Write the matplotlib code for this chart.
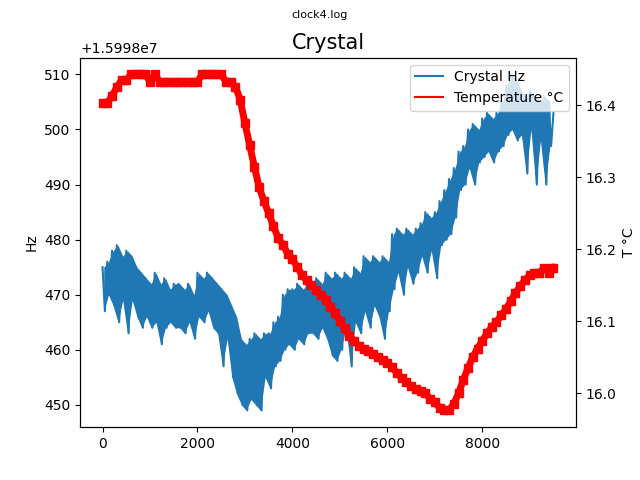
import matplotlib
matplotlib.use("Agg")
import matplotlib.pyplot as plt
import numpy as np
from matplotlib.lines import Line2D

# crystal frequency = BASE_HZ + offset, read every 50 samples (peak, trough alternately)
BASE_HZ = 15998000
hz_hi = [475, 476, 478, 479, 477, 478, 477, 475, 474, 473, 472, 474,
         472, 473, 471, 472, 472, 471, 472, 470, 474, 473, 474, 473,
         472, 471, 470, 468, 466, 462, 461, 462, 463, 462, 463, 463,
         465, 466, 470, 471, 471, 472, 471, 472, 472, 473, 472, 474,
         473, 474, 473, 474, 473, 475, 474, 477, 476, 477, 476, 477,
         476, 481, 482, 481, 482, 481, 482, 483, 485, 484, 485, 487,
         489, 491, 493, 496, 497, 500, 501, 500, 502, 503, 502, 503,
         505, 508, 510, 509, 507, 506, 507, 506, 505, 506, 505]
hz_lo = [467, 470, 468, 465, 469, 463, 469, 466, 464, 466, 464, 465,
         461, 464, 465, 464, 464, 463, 465, 462, 466, 465, 467, 464,
         463, 457, 462, 455, 452, 450, 449, 451, 450, 449, 455, 453,
         457, 458, 460, 461, 460, 462, 461, 463, 463, 462, 464, 462,
         459, 458, 460, 464, 457, 465, 463, 467, 464, 468, 466, 462,
         467, 471, 474, 470, 475, 472, 474, 477, 474, 478, 473, 479,
         480, 481, 484, 489, 490, 493, 490, 494, 495, 496, 494, 496,
         497, 499, 500, 498, 499, 492, 500, 490, 498, 490, 497]
hz_last = 503

# temperature every 100 samples
temp = [16.403, 16.403, 16.413, 16.425, 16.435, 16.435, 16.443, 16.443,
        16.443, 16.443, 16.433, 16.443, 16.433, 16.433, 16.433, 16.433,
        16.433, 16.433, 16.433, 16.433, 16.433, 16.443, 16.443, 16.443,
        16.443, 16.443, 16.433, 16.433, 16.426, 16.408, 16.375, 16.345,
        16.314, 16.286, 16.267, 16.250, 16.232, 16.216, 16.206, 16.194,
        16.186, 16.176, 16.164, 16.157, 16.150, 16.143, 16.136, 16.130,
        16.120, 16.112, 16.100, 16.090, 16.080, 16.072, 16.066, 16.062,
        16.058, 16.054, 16.050, 16.046, 16.042, 16.036, 16.028, 16.021,
        16.015, 16.010, 16.006, 16.003, 16.000, 15.992, 15.987, 15.980,
        15.976, 15.976, 15.985, 16.000, 16.018, 16.035, 16.050, 16.062,
        16.073, 16.083, 16.092, 16.099, 16.108, 16.117, 16.128, 16.139,
        16.149, 16.157, 16.164, 16.167, 16.167, 16.174, 16.167, 16.174]

hz = []
for hi, lo in zip(hz_hi, hz_lo):
    hz += [hi, lo]
hz.append(hz_last)
hz = BASE_HZ + np.array(hz, dtype=float)
hz_x = np.arange(len(hz)) * 50
band_x = np.arange(len(hz_hi)) * 100 + 25
temp_x = np.arange(len(temp)) * 100

fig, ax = plt.subplots(figsize=(6.4, 4.8), dpi=100)
fig.suptitle("clock4.log", fontsize=8)
ax.set_title("Crystal", fontsize=15)
# dense noise in the log shows as a solid band
ax.fill_between(band_x, BASE_HZ + np.array(hz_hi), BASE_HZ + np.array(hz_lo),
                color="C0", lw=0)
l1, = ax.plot(hz_x, hz, color="C0", lw=1.5, label="Crystal Hz")
ax.set_ylabel("Hz")

ax2 = ax.twinx()
ax2.plot(temp_x, temp, color="red", marker="s", ms=5.5, lw=5)
ax2.set_ylabel("T °C")

red = Line2D([], [], color="red", lw=1.5, label="Temperature °C")
ax2.legend(handles=[l1, red], loc="upper right")

fig.savefig("out.png")
